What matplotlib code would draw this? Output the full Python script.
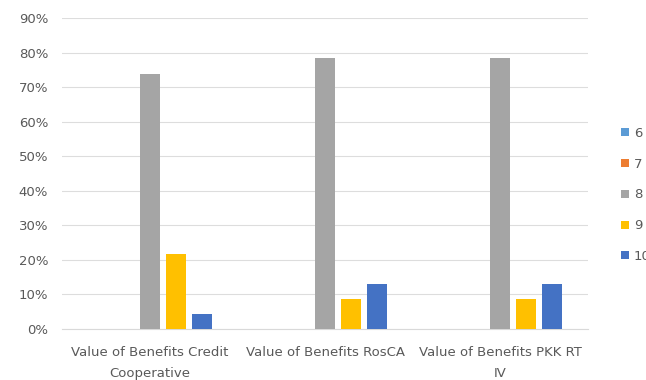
import matplotlib
matplotlib.use("Agg")
import matplotlib.pyplot as plt
import numpy as np

categories = ["Value of Benefits Credit\nCooperative",
              "Value of Benefits RosCA",
              "Value of Benefits PKK RT\nIV"]
series_names = ["6", "7", "8", "9", "10"]
values = {
    "6": [0.0, 0.0, 0.0],
    "7": [0.0, 0.0, 0.0],
    "8": [0.739, 0.783, 0.783],
    "9": [0.217, 0.087, 0.087],
    "10": [0.043, 0.130, 0.130],
}
colors = ["#5B9BD5", "#ED7D31", "#A5A5A5", "#FFC000", "#4472C4"]
yticks = [0.0, 0.1, 0.2, 0.3, 0.4, 0.5, 0.6, 0.7, 0.8, 0.9]

plt.rcParams["font.family"] = ["DejaVu Sans"]
text_color = "#595959"
fs = 9.5

fig = plt.figure(figsize=(6.46, 3.80), dpi=100)
ax = fig.add_axes([62 / 646, 51 / 380, 526 / 646, 311 / 380])

x = np.arange(len(categories))
pitch = 0.148
width = 0.114
handles = []
for i, (name, col) in enumerate(zip(series_names, colors)):
    h = ax.bar(x + (i - 2) * pitch, values[name], width=width, color=col,
               label=name, zorder=3)
    handles.append(h)

ax.set_xlim(-0.5, len(categories) - 0.5)
ax.set_ylim(0, 0.9)
ax.set_yticks(yticks)
ax.set_yticklabels([f"{int(round(t * 100))}%" for t in yticks])
ax.set_xticks(x)
ax.set_xticklabels(categories, linespacing=1.85)
ax.grid(axis="y", color="#DDDDDD", linewidth=0.8, zorder=0)
for s in ["top", "right", "left"]:
    ax.spines[s].set_visible(False)
ax.spines["bottom"].set_color("#D9D9D9")
ax.tick_params(axis="both", length=0, colors=text_color, labelsize=fs)
ax.tick_params(axis="y", pad=10)
ax.tick_params(axis="x", pad=12)

leg = fig.legend(handles=handles, labels=series_names,
                 loc="center left", bbox_to_anchor=(616 / 646, 185 / 380),
                 frameon=False, fontsize=fs, labelcolor=text_color,
                 handlelength=0.55, handleheight=0.55, handletextpad=0.4,
                 labelspacing=1.35, borderaxespad=0)

fig.savefig("out.png", dpi=100)
